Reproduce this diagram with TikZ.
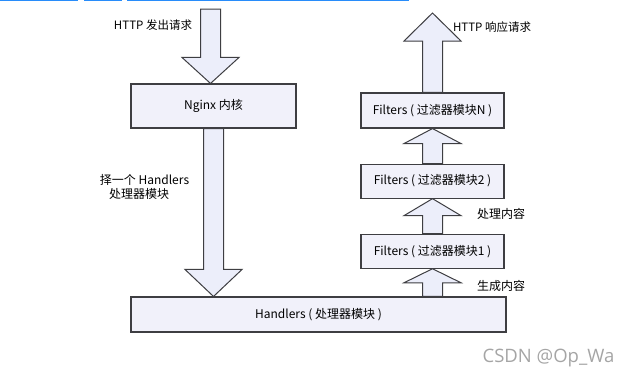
\documentclass[tikz,border=0pt]{standalone}
\usepackage{fontspec}
\setmainfont{Noto Sans CJK SC}
\setsansfont{Open Sans}
\usetikzlibrary{positioning,calc}

\definecolor{boxfill}{RGB}{241,241,250}
\definecolor{arrfill}{RGB}{236,238,250}
\definecolor{boxline}{RGB}{62,62,66}
\definecolor{barblue}{RGB}{40,140,250}
\definecolor{markgray}{RGB}{165,165,165}

% block arrow: start, tip, head length (signed, canvas units)
\newcommand{\fatarrow}[3]{%
  \draw[fatarr] ([xshift=-10pt]#1) -- ([shift={(-10pt,#3)}]#2)
    -- ([shift={(-28.5pt,#3)}]#2) -- (#2) -- ([shift={(28.5pt,#3)}]#2)
    -- ([shift={(10pt,#3)}]#2) -- ([xshift=10pt]#1) -- cycle;}

\begin{document}
\begin{tikzpicture}[x=1pt,y=-1pt,
  box/.style={draw=boxline,fill=boxfill,line width=1.1pt,inner sep=0pt,
    minimum width=#1,font=\fontsize{12}{14}\selectfont},
  box/.default=143pt,
  fatarr/.style={draw=boxline,fill=arrfill,line width=1pt,line join=miter},
  lbl/.style={inner sep=0pt,font=\fontsize{12}{14}\selectfont},
  topbar/.style={barblue,line width=1.4pt}]
\useasboundingbox (0,0) rectangle (631,380);

% page bars
\draw[topbar] (0,0.7) -- (78,0.7);
\draw[topbar] (84,0.7) -- (122,0.7);
\draw[topbar] (127,0.7) -- (409,0.7);

% boxes
\node[box=165pt,minimum height=44pt] (nginx) at (213.5,106) {Nginx 内核};
\node[box=375pt,minimum height=35pt] (handlers) at (318.5,314.5) {Handlers ( 处理器模块 )};
\node[box,minimum height=35pt] (fN) at (432.5,110.5) {Filters ( 过滤器模块N )};
\node[box,minimum height=34pt,below=35pt of fN] (f2) {Filters ( 过滤器模块2 )};
\node[box,minimum height=34pt,below=35pt of f2] (f1) {Filters ( 过滤器模块1 )};

\coordinate (reqin) at (210.5,9);
\coordinate (resout) at (432.5,13);

% block arrows
\fatarrow{reqin}{reqin |- nginx.north}{26pt}
\fatarrow{nginx.south}{nginx.south |- handlers.north}{27pt}
\fatarrow{f1.south |- handlers.north}{f1.south}{-14pt}
\fatarrow{f1.north}{f2.south}{-17pt}
\fatarrow{f2.north}{fN.south}{-15pt}
\fatarrow{fN.north}{resout}{-28pt}

% labels
\node[lbl,font=\fontsize{11.5}{13}\selectfont] (req) at (153,25) {HTTP 发出请求};
\node[lbl,font=\fontsize{11.5}{13}\selectfont] (res) at (492,27) {HTTP 响应请求};
\node[lbl] (sel) at (144.5,180) {择一个 Handlers};
\node[lbl] (selb) at (139,194) {处理器模块};
\node[lbl] (proc) at (501,214) {处理内容};
\node[lbl] (gen) at (501,286) {生成内容};

\node[inner sep=0pt,text=markgray,font=\sffamily\fontsize{18.5}{20}\selectfont] (mark) at (548.5,358) {CSDN @Op\_Wa};
\end{tikzpicture}
\end{document}
